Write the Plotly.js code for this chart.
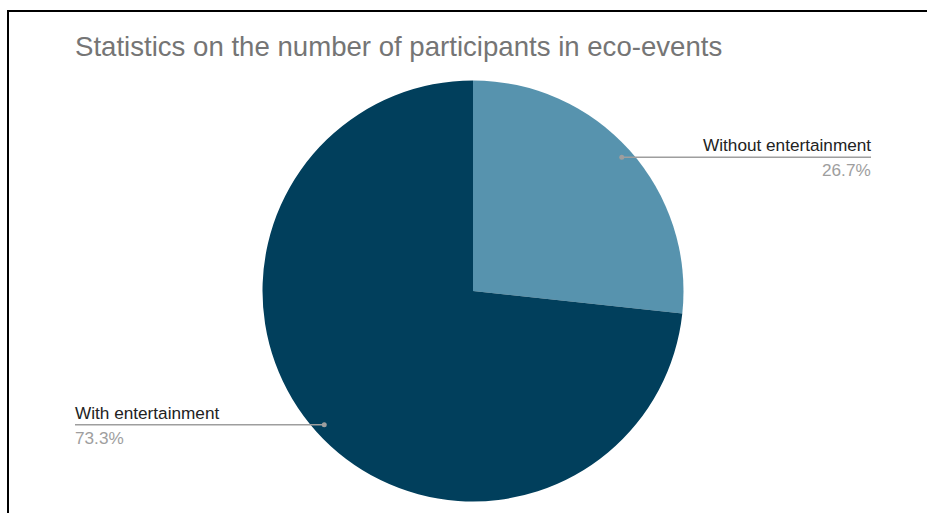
<!DOCTYPE html>
<html>
<head>
<meta charset="utf-8">
<script src="https://cdn.plot.ly/plotly-3.0.1.min.js"></script>
<style>
html,body{margin:0;padding:0;background:#fff;}
#chart{width:927px;height:513px;}
</style>
</head>
<body>
<div id="chart"></div>
<script>
const categories = ["Without entertainment", "With entertainment"];
const values = [26.7, 73.3];
const percentLabels = ["26.7%", "73.3%"];
const sliceColors = ["#5793ae", "#013f5c"];
const titleText = "Statistics on the number of participants in eco-events";

const W = 927, H = 513;
const cx = 473, cy = 291, R = 210.5;
const px = x => x / W;
const py = y => 1 - y / H;

const labelSide = ["right", "left"];
const lineEndX = [871, 75];

const total = values.reduce((a, b) => a + b, 0);
let cum = 0;
const shapes = [
  {type: "line", xref: "paper", yref: "paper", x0: px(7), x1: 1.01, y0: py(11), y1: py(11), line: {color: "#000", width: 2}},
  {type: "line", xref: "paper", yref: "paper", x0: px(8), x1: px(8), y0: py(11), y1: -0.01, line: {color: "#000", width: 2}}
];
const fontFam = "Liberation Sans, Arial, sans-serif";
const annotations = [
  {text: titleText, xref: "paper", yref: "paper", x: px(75), y: py(46), xanchor: "left", yanchor: "middle", showarrow: false,
   borderpad: 0, borderwidth: 0, font: {family: fontFam, size: 27.6, color: "#757575"}}
];
values.forEach((v, i) => {
  const mid = (cum + v / 2) / total * 2 * Math.PI;
  cum += v;
  const dx = cx + Math.sin(mid) * R * 0.95;
  const dy = cy - Math.cos(mid) * R * 0.95;
  shapes.push({type: "line", xref: "paper", yref: "paper", x0: px(dx), x1: px(lineEndX[i]), y0: py(dy), y1: py(dy), line: {color: "#9e9e9e", width: 1.5}});
  shapes.push({type: "circle", xref: "paper", yref: "paper", x0: px(dx - 2.5), x1: px(dx + 2.5), y0: py(dy + 2.5), y1: py(dy - 2.5), fillcolor: "#9e9e9e", line: {width: 0}});
  const anchor = labelSide[i] === "right" ? "right" : "left";
  annotations.push({text: categories[i], xref: "paper", yref: "paper", x: px(lineEndX[i]), y: py(dy - 12), xanchor: anchor, yanchor: "middle", showarrow: false,
    borderpad: 0, borderwidth: 0, font: {family: fontFam, size: 17.2, color: "#222222"}});
  annotations.push({text: percentLabels[i], xref: "paper", yref: "paper", x: px(lineEndX[i]), y: py(dy + 13), xanchor: anchor, yanchor: "middle", showarrow: false,
    borderpad: 0, borderwidth: 0, font: {family: fontFam, size: 17.2, color: "#9e9e9e"}});
});

const trace = {
  type: "pie",
  labels: categories,
  values: values,
  sort: false,
  direction: "clockwise",
  rotation: 0,
  marker: {colors: sliceColors, line: {width: 0}},
  textinfo: "none",
  hoverinfo: "none",
  showlegend: false,
  domain: {x: [px(cx - R), px(cx + R)], y: [py(cy + R), py(cy - R)]}
};

const layout = {
  width: W, height: H,
  margin: {l: 0, r: 0, t: 0, b: 0},
  paper_bgcolor: "#ffffff",
  showlegend: false,
  shapes: shapes,
  annotations: annotations
};

Plotly.newPlot("chart", [trace], layout, {displayModeBar: false, staticPlot: true});
</script>
</body>
</html>
